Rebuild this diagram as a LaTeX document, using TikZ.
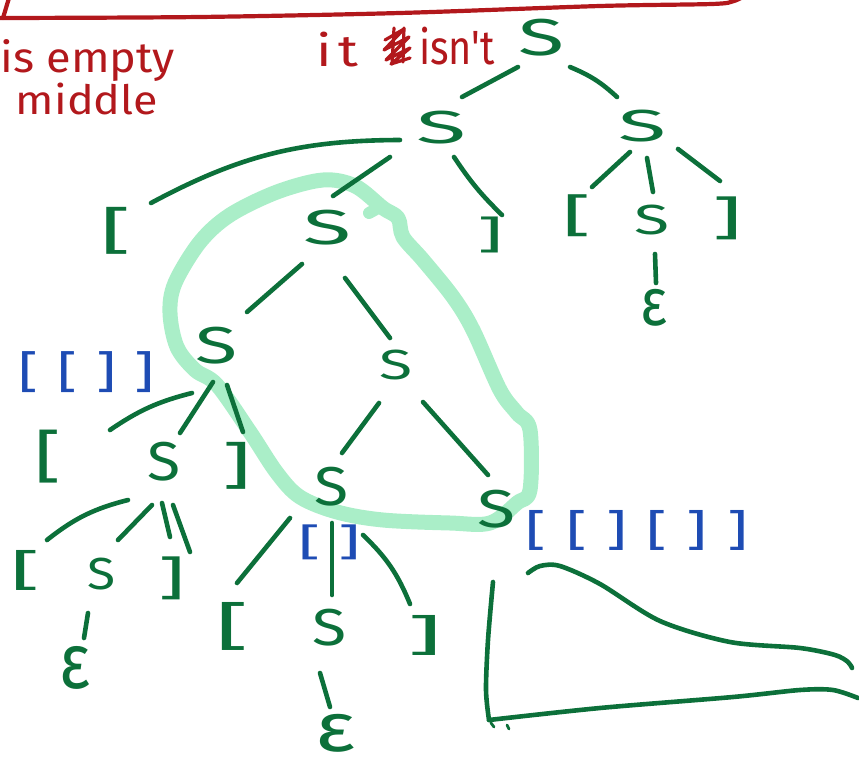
\documentclass[tikz,border=0pt]{standalone}
\usepackage{fontspec}
\newfontfamily\hand{Fira Sans}
\definecolor{ink}{RGB}{12,112,58}
\definecolor{hlg}{RGB}{170,238,200}
\definecolor{redink}{RGB}{178,24,28}
\definecolor{blueink}{RGB}{30,76,180}
\tikzset{
  edge/.style={draw=ink, line width=4.6pt, line cap=round, line join=round},
  sym/.style={inner sep=0pt, outer sep=0pt, text=ink, font=\hand},
  bsym/.style={sym, text=blueink},
  rsym/.style={sym, text=redink},
  hl/.style={draw=hlg, line width=15pt, line cap=round, line join=round},
  rline/.style={draw=redink, line width=4.2pt, line cap=round, line join=round},
}
\newcommand\bx[3]{\resizebox*{#1pt}{#2pt}{#3}}
\newcommand\ed[4]{\draw[edge] ([shift={(#2)}]#1.center) -- ([shift={(#4)}]#3.center);}
\begin{document}
\begin{tikzpicture}[x=1pt,y=-1pt]
\useasboundingbox (0,0) rectangle (859,762);
% highlight loop
\draw[hl] plot[smooth cycle, tension=0.55] coordinates {(323,180) (277,192) (230,215) (200,242) (175,283) (170,313) (177,347) (195,370) (217,385) (250,432) (277,473) (300,497) (337,512) (383,520) (450,523) (490,523) (517,503) (530,490) (530,430) (517,413) (500,390) (473,330) (453,297) (423,260) (403,237) (398,218) (383,208) (355,186)};
\draw[hl, line width=12pt] (369,213) -- (378,208);
% red annotations
\draw[rline] (9,-2) -- (3,18) -- (0,18);
\draw[rline] plot[smooth] coordinates {(3,18) (200,17) (400,13) (600,6) (712,4) (734,1) (748,-6)};
\node[rsym] (it) at (337,50) {\bx{42}{35}{i\kern.12em t}};
\node[rsym] (isnt) at (457,46) {\bx{76}{38}{isn't}};
\draw[rline, line width=3.2pt] (385,40) -- (404,29) -- (384,50) -- (409,37) -- (386,60) -- (410,48) -- (391,64) -- (410,58);
\draw[rline, line width=3.2pt] (394,28) -- (392,64) (404,28) -- (403,62);
\node[rsym] (empty) at (88,61) {\bx{174}{42}{is empty}};
\node[rsym] (middle) at (87,99) {\bx{142}{32}{middle}};
% tree nodes
\node[sym] (r) at (541,38) {\bx{46}{37}{S}};
\node[sym] (l1) at (441,128) {\bx{50}{33}{S}};
\node[sym] (r1) at (642,126) {\bx{48}{32}{S}};
\node[sym] (rb1) at (577,216) {\bx{29}{42}{[}};
\node[sym] (rs) at (652,220) {\bx{35}{30}{S}};
\node[sym] (rb2) at (727,218) {\bx{30}{43}{]}};
\node[sym] (re) at (654,308) {\bx{27}{37}{ε}};
\node[sym] (lb1) at (116,231) {\bx{31}{47}{[}};
\node[sym] (s2) at (327,228) {\bx{48}{35}{S}};
\node[sym] (lb2) at (490,235) {\bx{26}{36}{]}};
\node[sym] (s3) at (217,346) {\bx{42}{37}{S}};
\node[sym] (s4) at (396,365) {\bx{33}{30}{S}};
\node[sym] (s3a) at (48,457) {\bx{27}{53}{[}};
\node[sym] (s5) at (164,462) {\bx{33}{39}{S}};
\node[sym] (s3b) at (237,466) {\bx{29}{47}{]}};
\node[sym] (s6a) at (26,570) {\bx{30}{40}{[}};
\node[sym] (s6) at (102,574) {\bx{28}{32}{S}};
\node[sym] (s6b) at (172,578) {\bx{27}{43}{]}};
\node[sym] (e6) at (75,668) {\bx{31}{43}{ε}};
\node[sym] (s7) at (331,487) {\bx{34}{39}{S}};
\node[sym] (s8) at (496,509) {\bx{38}{38}{S}};
\node[sym] (s7a) at (233,626) {\bx{34}{48}{[}};
\node[sym] (s9) at (329,628) {\bx{34}{37}{S}};
\node[sym] (s7b) at (425,635) {\bx{35}{40}{]}};
\node[sym] (e9) at (335,733) {\bx{40}{38}{ε}};
% blue bracket strings
\node[bsym] (bq1) at (87,372) {\bx{136}{41}{[\kern.3em[\kern.3em]\kern.3em]}};
\node[bsym] (bq2) at (637,530) {\bx{222}{40}{[\kern.3em[\kern.3em]\kern.3em[\kern.3em]\kern.3em]}};
\node[bsym] (bq3) at (330,542) {\bx{62}{35}{[\kern.25em]}};
% edges
\ed{r}{-23,29}{l1}{21,-31}
\draw[edge] ([shift={(29,29)}]r.center) to[bend left=10] ([shift={(-25,-29)}]r1.center);
\draw[edge] ([shift={(-41,12)}]l1.center) to[bend right=14] ([shift={(35,-28)}]lb1.center);
\ed{l1}{-51,29}{s2}{6,-32}
\draw[edge] ([shift={(13,29)}]l1.center) to[bend right=6] ([shift={(12,-20)}]lb2.center);
\ed{r1}{-12,26}{rb1}{15,-29}
\ed{r1}{5,32}{rs}{1,-28}
\ed{r1}{36,23}{rb2}{-7,-37}
\ed{rs}{3,34}{re}{2,-25}
\ed{s2}{-25,36}{s3}{30,-34}
\ed{s2}{18,50}{s4}{-6,-27}
\draw[edge] ([shift={(-25,47)}]s3.center) to[bend right=10] ([shift={(62,-27)}]s3a.center);
\ed{s3}{-4,36}{s5}{16,-29}
\ed{s3}{10,39}{s3b}{6,-34}
\ed{s4}{-17,38}{s7}{11,-34}
\ed{s4}{27,37}{s8}{-8,-34}
\draw[edge] ([shift={(-36,38)}]s5.center) to[bend right=12] ([shift={(21,-30)}]s6a.center);
\ed{s5}{-12,43}{s6}{16,-34}
\ed{s5}{-2,41}{s6b}{-2,-41}
\ed{s5}{9,43}{s6b}{18,-26}
\ed{s6}{-14,39}{e6}{9,-30}
\ed{s7}{-41,31}{s7a}{4,-43}
\ed{s7}{1,36}{s9}{3,-33}
\draw[edge] ([shift={(32,48)}]s7.center) to[bend left=12] ([shift={(-15,-31)}]s7b.center);
\ed{s9}{-9,45}{e9}{-5,-26}
% graph sketch
\coordinate (g0) at (489,720);
\draw[edge] plot[smooth] coordinates {(493,582) (488,640) (486,690) (489,720)};
\draw[edge] plot[smooth] coordinates {(489,720) (600,708) (733,697) (800,690) (833,690) (858,698)};
\draw[edge] plot[smooth] coordinates {(528,573) (540,566) (560,566) (600,584) (660,621) (730,642) (800,648) (835,655) (848,662) (852,668)};
\draw[edge, line width=2.8pt] (491,723) -- (494,727) (507,725) -- (509,729);
\end{tikzpicture}
\end{document}
